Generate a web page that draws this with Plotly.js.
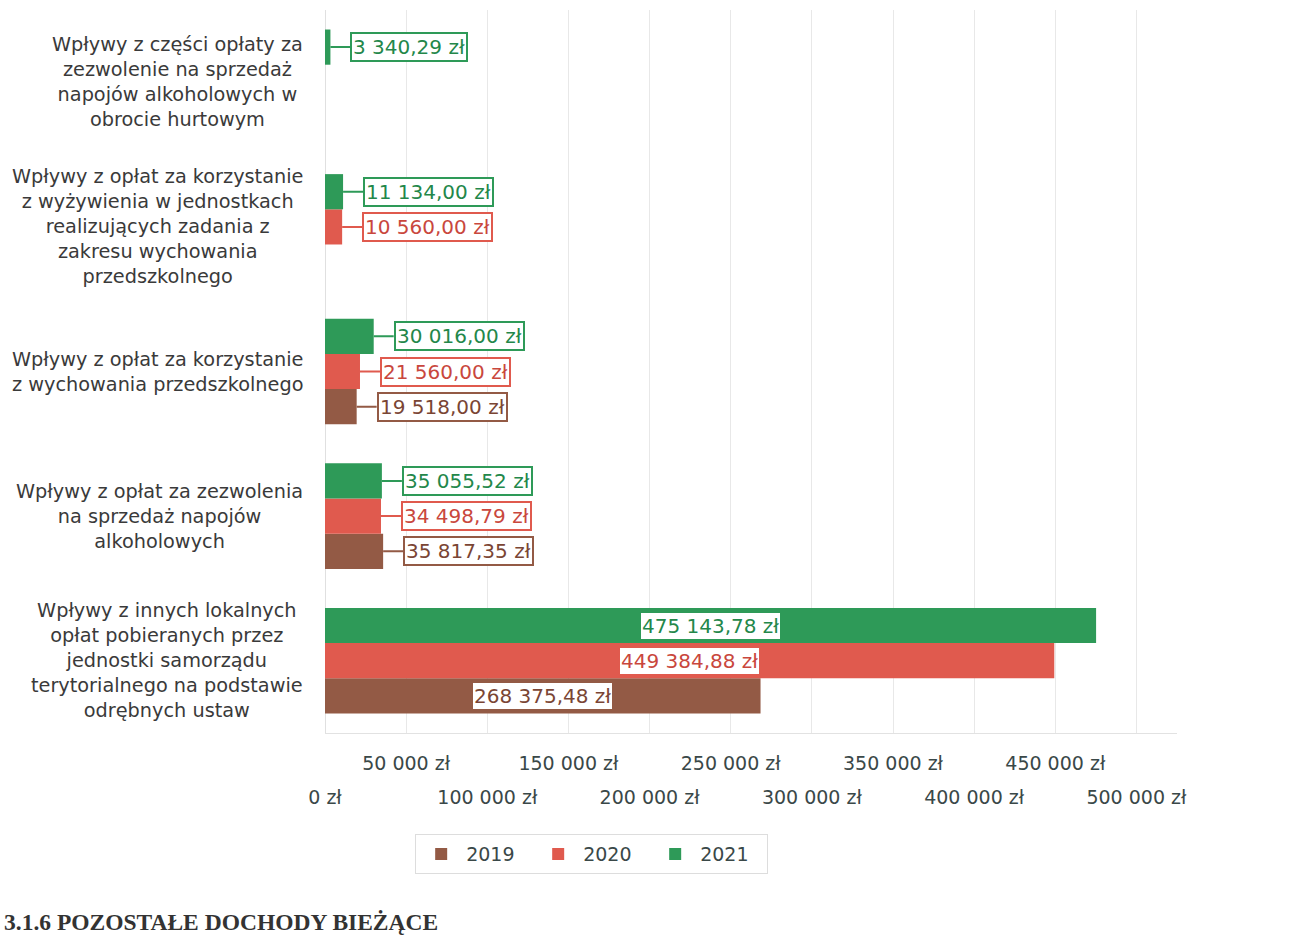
<!DOCTYPE html>
<html>
<head>
<meta charset="utf-8">
<script src="https://cdn.plot.ly/plotly-3.0.1.min.js"></script>
<style>html,body{margin:0;padding:0;background:#fff;}#chart{width:1294px;height:936px;}</style>
</head>
<body>
<div id="chart"></div>
<script>
// Categories listed bottom-to-top (as drawn on the y axis)
const categoryKeys = ["inne", "alkohol", "wychowanie", "wyzywienie", "hurt"];
const categoryLabels = [
  "Wpływy z innych lokalnych<br>opłat pobieranych przez<br>jednostki samorządu<br>terytorialnego na podstawie<br>odrębnych ustaw",
  "Wpływy z opłat za zezwolenia<br>na sprzedaż napojów<br>alkoholowych",
  "Wpływy z opłat za korzystanie<br>z wychowania przedszkolnego",
  "Wpływy z opłat za korzystanie<br>z wyżywienia w jednostkach<br>realizujących zadania z<br>zakresu wychowania<br>przedszkolnego",
  "Wpływy z części opłaty za<br>zezwolenie na sprzedaż<br>napojów alkoholowych w<br>obrocie hurtowym"
];
const seriesNames = ["2019", "2020", "2021"];
const values2019 = [268375.48, 35817.35, 19518.00, null, null];
const values2020 = [449384.88, 34498.79, 21560.00, 10560.00, null];
const values2021 = [475143.78, 35055.52, 30016.00, 11134.00, 3340.29];
const tickValuesLower = [0, 100000, 200000, 300000, 400000, 500000];
const tickLabelsLower = ["0 zł", "100 000 zł", "200 000 zł", "300 000 zł", "400 000 zł", "500 000 zł"];
const tickValuesUpper = [50000, 150000, 250000, 350000, 450000];
const tickLabelsUpper = ["50 000 zł", "150 000 zł", "250 000 zł", "350 000 zł", "450 000 zł"];
const heading = "3.1.6 POZOSTAŁE DOCHODY BIEŻĄCE";

const barColors = ["#935a45", "#e05a4e", "#2e9a58"];
const textColors = ["#7a4534", "#c9473d", "#23874a"];
const FONT = "'DejaVu Sans', sans-serif";
const BARGAP = 0.27;
const allValues = [values2019, values2020, values2021];

function fmt(v) {
  const parts = v.toFixed(2).split(".");
  const intPart = parts[0].replace(/\B(?=(\d{3})+(?!\d))/g, " ");
  return intPart + "," + parts[1] + " zł";
}

const traces = allValues.map((vals, i) => ({
  type: "bar",
  orientation: "h",
  name: seriesNames[i],
  x: vals,
  y: categoryKeys,
  marker: { color: barColors[i] },
  hoverinfo: "skip"
}));
// empty helper trace so the second (staggered-label) x axis is rendered
traces.push({ type: "scatter", mode: "none", x: [], y: [], xaxis: "x2", yaxis: "y", showlegend: false, hoverinfo: "skip" });

const annotations = [];
const slot = (1 - BARGAP) / 3;
allValues.forEach((vals, s) => {
  vals.forEach((v, c) => {
    if (v === null) return;
    const yPos = c + (s - 1) * slot;
    const base = {
      yref: "y", xref: "x", y: yPos,
      text: fmt(v),
      font: { family: FONT, size: 20, color: textColors[s] },
      bgcolor: "#ffffff",
      bordercolor: barColors[s],
      borderwidth: 2,
      borderpad: 1
    };
    if (v > 100000) {
      annotations.push(Object.assign(base, { x: v / 2, showarrow: false, borderwidth: 0, xanchor: "center" }));
    } else {
      annotations.push(Object.assign(base, {
        x: v, showarrow: true, arrowhead: 0, arrowwidth: 2, arrowcolor: barColors[s],
        ax: 20, ay: 0, axref: "pixel", ayref: "pixel", xanchor: "left", standoff: 0
      }));
    }
  });
});

categoryLabels.forEach((lab, c) => {
  annotations.push({
    xref: "paper", yref: "y", x: -0.023, y: c,
    xanchor: "right", yanchor: "middle", align: "center",
    text: lab, showarrow: false,
    font: { family: FONT, size: 19.3, color: "#3a3a3a" }
  });
});

annotations.push({
  xref: "paper", yref: "paper", x: -0.379, y: -0.261,
  xanchor: "left", yanchor: "middle", showarrow: false,
  text: "<b>" + heading + "</b>",
  font: { family: "'Liberation Serif', 'DejaVu Serif', serif", size: 23.5, color: "#333" }
});

const tickFont = { family: FONT, size: 19, color: "#3a4848" };

const layout = {
  width: 1294, height: 936,
  margin: { l: 325, r: 117, t: 10, b: 203 },
  paper_bgcolor: "#fff", plot_bgcolor: "#fff",
  barmode: "group", bargap: BARGAP, bargroupgap: 0,
  font: { family: FONT, size: 19, color: "#3a4848" },
  xaxis: {
    range: [0, 525000],
    tickvals: tickValuesLower, ticktext: tickLabelsLower, tickangle: 0,
    showgrid: true, gridcolor: "#e8e8e8", gridwidth: 1,
    zeroline: true, zerolinecolor: "#e0e0e0",
    showline: true, linecolor: "#e2e2e2", mirror: false,
    ticks: "", ticklabelstandoff: 47,
    tickfont: tickFont,
    fixedrange: true
  },
  xaxis2: {
    overlaying: "x", anchor: "y", side: "bottom",
    range: [0, 525000],
    tickvals: tickValuesUpper, ticktext: tickLabelsUpper, tickangle: 0,
    showgrid: true, gridcolor: "#e8e8e8", gridwidth: 1,
    zeroline: false, showline: false,
    ticks: "", ticklabelstandoff: 17,
    tickfont: tickFont,
    fixedrange: true
  },
  yaxis: {
    type: "category", categoryorder: "array", categoryarray: categoryKeys,
    showticklabels: false, showgrid: false, zeroline: false,
    showline: false, ticks: "", fixedrange: true
  },
  showlegend: true,
  legend: {
    orientation: "h", x: 0.313, xanchor: "center", y: -0.14, yanchor: "top",
    bordercolor: "#dddddd", borderwidth: 1, bgcolor: "#fff",
    font: { family: FONT, size: 19, color: "#3a4848" },
    traceorder: "normal", entrywidth: 62, itemwidth: 40
  },
  annotations: annotations
};

Plotly.newPlot("chart", traces, layout, { displayModeBar: false, staticPlot: true });
</script>
</body>
</html>
